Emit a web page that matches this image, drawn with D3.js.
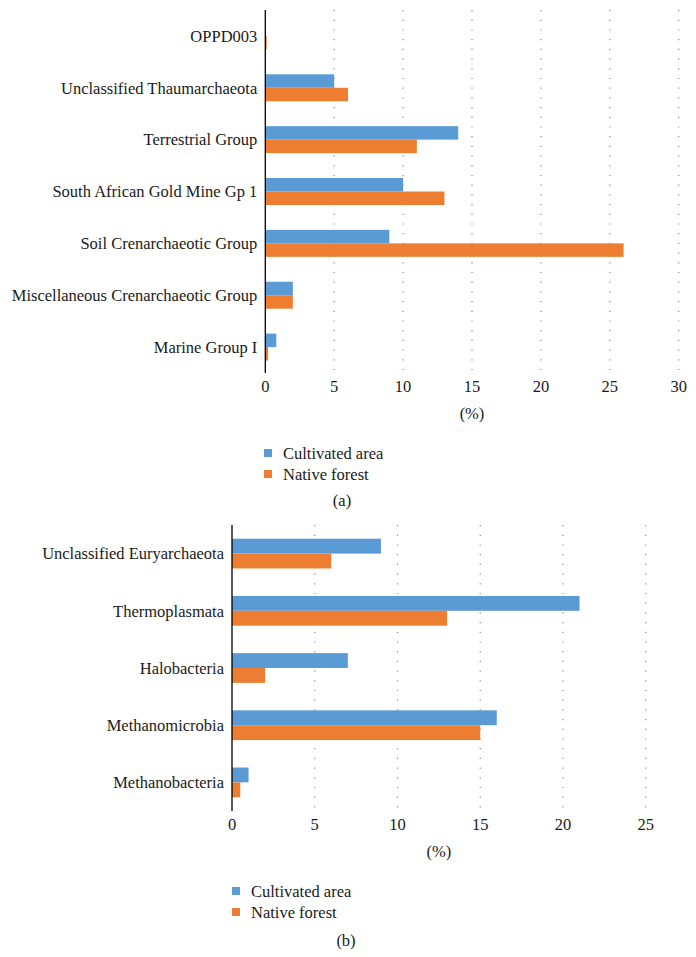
<!DOCTYPE html>
<html>
<head>
<meta charset="utf-8">
<script src="https://cdn.jsdelivr.net/npm/d3@7"></script>
<style>
  body { margin: 0; background: #fff; }
  svg { display: block; }
</style>
</head>
<body>
<svg id="chart" width="696" height="957"></svg>
<script>
// ---- Data ----
const seriesNames = ["Cultivated area", "Native forest"];
const seriesColors = ["#5B9BD5", "#ED7D31"];

// Panel (a)
const categoriesA = ["OPPD003", "Unclassified Thaumarchaeota", "Terrestrial Group",
  "South African Gold Mine Gp 1", "Soil Crenarchaeotic Group",
  "Miscellaneous Crenarchaeotic Group", "Marine Group I"];
const cultivatedA = [0, 5, 14, 10, 9, 2, 0.8];
const nativeA     = [0.1, 6, 11, 13, 26, 2, 0.2];
const ticksA = [0, 5, 10, 15, 20, 25, 30];

// Panel (b)
const categoriesB = ["Unclassified Euryarchaeota", "Thermoplasmata", "Halobacteria",
  "Methanomicrobia", "Methanobacteria"];
const cultivatedB = [9, 21, 7, 16, 1];
const nativeB     = [6, 13, 2, 15, 0.5];
const ticksB = [0, 5, 10, 15, 20, 25];

const FONT = "'Liberation Serif', 'DejaVu Serif', serif";
const svg = d3.select("#chart");

function txt(sel) {
  return sel.attr("font-family", FONT).attr("font-size", 16.5).attr("fill", "#1a1a1a");
}

function drawPanel(cfg) {
  const g = svg.append("g");
  const x = d3.scaleLinear().domain(cfg.xDomain).range([cfg.x0, cfg.x1]);
  const y = d3.scaleBand().domain(cfg.categories).range([cfg.y0, cfg.y1])
    .paddingInner(0.48).paddingOuter(0.24);
  const ySub = d3.scaleBand().domain([0, 1]).range([0, y.bandwidth()]);

  // dotted gridlines
  g.selectAll("line.grid").data(cfg.ticks.filter(t => t > 0)).join("line")
    .attr("x1", d => x(d)).attr("x2", d => x(d))
    .attr("y1", cfg.y0).attr("y2", cfg.y1)
    .attr("stroke", "#8a8a8a").attr("stroke-width", 1.2)
    .attr("stroke-dasharray", "1.2 8.5");

  // bars
  const rows = cfg.categories.map((c, i) => ({ c, vals: [cfg.cult[i], cfg.nat[i]] }));
  const rg = g.selectAll("g.row").data(rows).join("g")
    .attr("transform", d => `translate(0,${y(d.c)})`);
  rg.selectAll("rect").data(d => d.vals.map((v, k) => ({ v, k }))).join("rect")
    .attr("x", x(0))
    .attr("y", d => ySub(d.k))
    .attr("width", d => x(d.v) - x(0))
    .attr("height", ySub.bandwidth())
    .attr("fill", d => seriesColors[d.k]);

  // vertical axis line
  g.append("line")
    .attr("x1", x(0)).attr("x2", x(0)).attr("y1", cfg.y0).attr("y2", cfg.y1)
    .attr("stroke", "#000").attr("stroke-width", 1.3);

  // category labels
  txt(g.selectAll("text.cat").data(cfg.categories).join("text"))
    .attr("x", x(0) - 8)
    .attr("y", d => y(d) + y.bandwidth() / 2)
    .attr("dy", "0.35em")
    .attr("text-anchor", "end")
    .text(d => d);

  // tick labels
  txt(g.selectAll("text.tick").data(cfg.ticks).join("text"))
    .attr("x", d => x(d))
    .attr("y", cfg.y1 + 19)
    .attr("text-anchor", "middle")
    .text(d => d);

  // axis title
  txt(g.append("text"))
    .attr("x", (cfg.x0 + cfg.x1) / 2).attr("y", cfg.y1 + 46)
    .attr("text-anchor", "middle").text("(%)");

  // legend
  seriesNames.forEach((s, k) => {
    const ly = cfg.legendY + k * 21;
    g.append("rect").attr("x", cfg.legendX).attr("y", ly - 4).attr("width", 8).attr("height", 8)
      .attr("fill", seriesColors[k]);
    txt(g.append("text")).attr("x", cfg.legendX + 19).attr("y", ly).attr("dy", "0.35em")
      .text(s);
  });

  // panel label
  txt(g.append("text")).attr("x", cfg.labelX).attr("y", cfg.labelY).attr("dy", "0.35em")
    .attr("text-anchor", "middle").text(cfg.label);
}

drawPanel({
  categories: categoriesA, cult: cultivatedA, nat: nativeA, ticks: ticksA,
  xDomain: [0, 30], x0: 265.3, x1: 678.7, y0: 10, y1: 373,
  legendX: 264, legendY: 453, label: "(a)", labelX: 342, labelY: 500
});

drawPanel({
  categories: categoriesB, cult: cultivatedB, nat: nativeB, ticks: ticksB,
  xDomain: [0, 25], x0: 232, x1: 645.7, y0: 525, y1: 811,
  legendX: 232, legendY: 891, label: "(b)", labelX: 346, labelY: 940
});
</script>
</body>
</html>
